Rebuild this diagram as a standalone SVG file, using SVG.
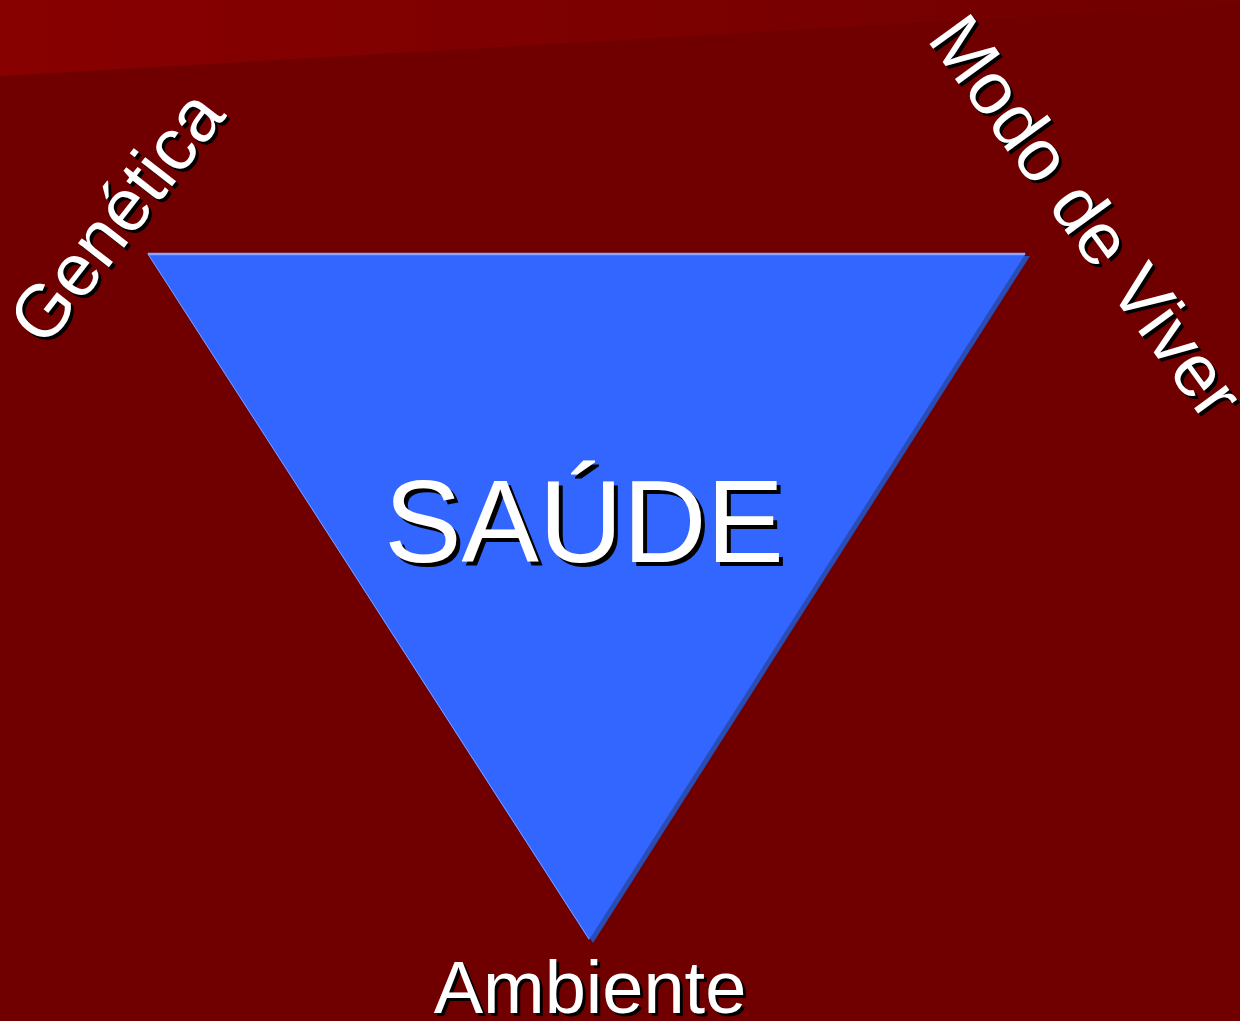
<svg xmlns="http://www.w3.org/2000/svg" width="1240" height="1021" viewBox="0 0 1240 1021">
<defs>
<linearGradient id="band" x1="0" y1="0" x2="1" y2="0">
<stop offset="0" stop-color="#880000"/>
<stop offset="1" stop-color="#710000"/>
</linearGradient>
</defs>
<style>
.t{font-family:"Liberation Sans",Arial,sans-serif;fill:#ffffff}
.s{font-family:"Liberation Sans",Arial,sans-serif;fill:#000000}
</style>
<rect x="0" y="0" width="1240" height="1021" fill="#700000"/>
<polygon points="0,0 1240,0 1240,4 0,76" fill="url(#band)"/>
<g id="triangle">
<polygon points="151,256 1030,256 593,943" fill="#2a4db5"/>
<polygon points="147,253 1026,253 589,940" fill="#3366ff"/>
<line x1="148" y1="254" x2="1025" y2="254" stroke="#8aa6ff" stroke-width="2.5"/>
<line x1="148" y1="254" x2="589" y2="939" stroke="#7d9cff" stroke-width="1"/>
</g>
<g id="saude">
<text class="s" x="588" y="566" font-size="116" text-anchor="middle">SAÚDE</text>
<text class="t" x="584" y="562" font-size="116" text-anchor="middle">SAÚDE</text>
</g>
<g id="ambiente">
<text class="s" x="593" y="1016" font-size="74" text-anchor="middle">Ambiente</text>
<text class="t" x="590" y="1013" font-size="74" text-anchor="middle">Ambiente</text>
</g>
<g id="genetica">
<text class="s" font-size="74" transform="translate(48,352) rotate(-52)">Genética</text>
<text class="t" font-size="74" transform="translate(45,349) rotate(-52)">Genética</text>
</g>
<g id="modo-de-viver">
<text class="s" font-size="74" transform="translate(929,42) rotate(54)">Modo de Viver</text>
<text class="t" font-size="74" transform="translate(926,39) rotate(54)">Modo de Viver</text>
</g>
<g id="connectors"></g>
</svg>
